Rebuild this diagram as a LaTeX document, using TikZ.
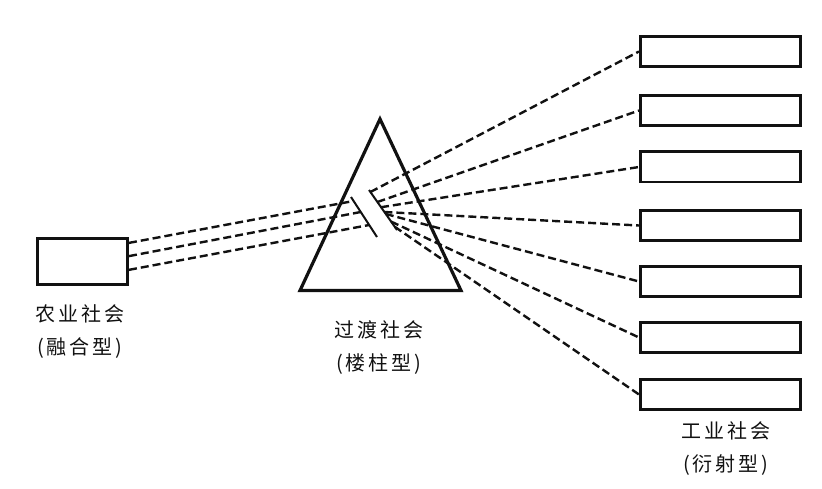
\documentclass[tikz,border=0pt]{standalone}
\usepackage{fontspec}
\newfontfamily\cjk[LetterSpace=15]{Noto Sans CJK SC}
\usetikzlibrary{calc}
\definecolor{prink}{HTML}{111111}
\tikzset{
  box/.style={draw=prink,line width=2.8pt,minimum width=90.2pt,minimum height=46.2pt,inner sep=0pt},
  slot/.style={draw=prink,line width=2.8pt,minimum width=160.2pt,minimum height=30.2pt,inner sep=0pt},
  prism/.style={draw=prink,line width=3.2pt,line join=miter},
  slash/.style={draw=prink,line width=2pt},
  ray/.style={draw=prink,line width=2.4pt,dash pattern=on 8pt off 4pt},
  lab/.style={font={\fontsize{20}{33}\cjk},text=prink,align=center,inner sep=0pt},
}

\begin{document}
\begin{tikzpicture}[x=1pt,y=-1pt]
    \useasboundingbox (0,0) rectangle (822,489);
    % societies
    \node[box]  (agri) at (82.5,261.5) {};
    \node[slot] (ind1) at (720.5,51.5)  {};
    \node[slot] (ind2) at (720.5,110.5) {};
    \node[slot] (ind3) at (720.5,167)   {};
    \node[slot] (ind4) at (720.5,225.5) {};
    \node[slot] (ind5) at (720.5,281.5) {};
    \node[slot] (ind6) at (720.5,337.5) {};
    \node[slot] (ind7) at (720.5,394.5) {};
    % prism
    \coordinate (apex) at (380,119);
    \coordinate (bl)   at (300,290.5);
    \coordinate (br)   at (461,290.5);
    \draw[prism] (apex) -- (bl) -- (br) -- cycle;
    \coordinate (sa1) at (351,197);
    \coordinate (sa2) at (377,237);
    \coordinate (sb1) at (369,190);
    \coordinate (sb2) at (397,230);
    \draw[slash] (sa1) -- (sa2);
    \draw[slash] (sb1) -- (sb2);
    % ray ends
    \coordinate (src1) at ($(agri.north east)!0.12!(agri.south east)$);
    \coordinate (src2) at ($(agri.north east)!0.39!(agri.south east)$);
    \coordinate (src3) at ($(agri.north east)!0.67!(agri.south east)$);
    \coordinate (hit1) at ($(sa1)!0.1!(sa2)$);
    \coordinate (hit2) at ($(sa1)!0.375!(sa2)$);
    \coordinate (hit3) at ($(sa1)!0.7!(sa2)$);
    \coordinate (out1) at ($(sb1)!0.05!(sb2)$);
    \coordinate (out2) at ($(sb1)!0.3!(sb2)$);
    \coordinate (out3) at ($(sb1)!0.43!(sb2)$);
    \coordinate (out4) at ($(sb1)!0.55!(sb2)$);
    \coordinate (out5) at ($(sb1)!0.6!(sb2)$);
    \coordinate (out6) at ($(sb1)!0.79!(sb2)$);
    \coordinate (out7) at ($(sb1)!0.92!(sb2)$);
    \draw[ray] (src1) -- (hit1);
    \draw[ray] (src2) -- (hit2);
    \draw[ray] (src3) -- (hit3);
    \draw[ray] (out1) -- (ind1.west);
    \draw[ray] (out2) -- (ind2.west);
    \draw[ray] (out3) -- (ind3.west);
    \draw[ray] (out4) -- (ind4.west);
    \draw[ray] (out5) -- (ind5.west);
    \draw[ray] (out6) -- (ind6.west);
    \draw[ray] (out7) -- (ind7.west);
    % labels
    \node[lab] (agrilab)  at (80,332)  {农业社会\\(融合型)};
    \node[lab] (translab) at (379,348) {过渡社会\\(楼柱型)};
    \node[lab] (indlab)   at (726,449) {工业社会\\(衍射型)};
\end{tikzpicture}
\end{document}
